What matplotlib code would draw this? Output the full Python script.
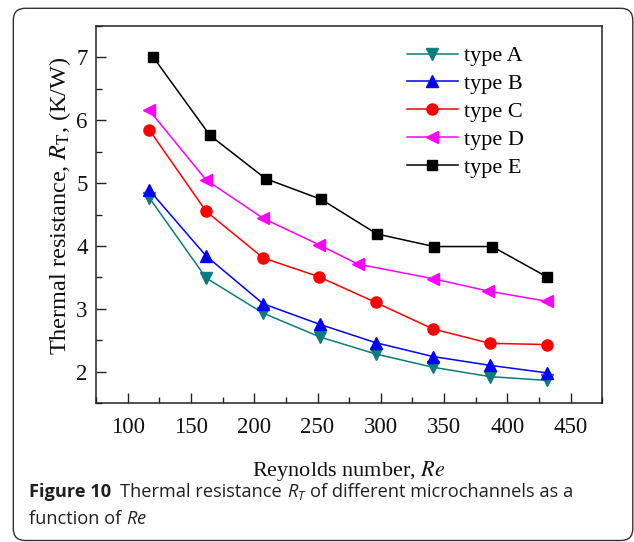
import matplotlib
matplotlib.use("Agg")
import matplotlib.pyplot as plt
from matplotlib.patches import FancyBboxPatch
from matplotlib.transforms import IdentityTransform
from matplotlib.ticker import MultipleLocator

# Reynolds numbers and thermal resistance (K/W) for each microchannel type
re_a = [117, 162, 207, 252, 296, 341, 386, 431]
rt_a = [4.77, 3.49, 2.93, 2.55, 2.28, 2.07, 1.92, 1.86]

re_b = [117, 162, 207, 252, 296, 341, 386, 431]
rt_b = [4.89, 3.84, 3.08, 2.75, 2.46, 2.24, 2.10, 1.98]

re_c = [117, 162, 207, 251, 296, 341, 386, 431]
rt_c = [5.85, 4.55, 3.81, 3.51, 3.10, 2.68, 2.45, 2.43]

re_d = [117, 162, 207, 251, 282, 341, 385, 431]
rt_d = [6.16, 5.05, 4.44, 4.02, 3.71, 3.48, 3.28, 3.12]

re_e = [120, 165, 209, 253, 297, 342, 388, 431]
rt_e = [7.01, 5.76, 5.07, 4.74, 4.19, 3.99, 3.99, 3.51]

labels = ["type A", "type B", "type C", "type D", "type E"]
x_ticks = [100, 150, 200, 250, 300, 350, 400, 450]
y_ticks = [2, 3, 4, 5, 6, 7]

series = [
    (re_a, rt_a, "#0b7d7d", "v", 8.5),
    (re_b, rt_b, "#0000ff", "^", 8.5),
    (re_c, rt_c, "#ff0000", "o", 8),
    (re_d, rt_d, "#ff00ff", "<", 8.5),
    (re_e, rt_e, "#000000", "s", 7),
]

# caption math uses Open Sans; axis labels use STIX (Times-like)
plt.rcParams["mathtext.fontset"] = "stix"
plt.rcParams["mathtext.it"] = "Open Sans:italic"
plt.rcParams["mathtext.rm"] = "Open Sans"
plt.rcParams["mathtext.bf"] = "Open Sans:bold"

serif = "Liberation Serif"
fs = 16.5

fig = plt.figure(figsize=(6.34, 5.42), dpi=100)
W, H = 634, 542
ax = fig.add_axes([96 / W, 1 - 403 / H, (602.3 - 96) / W, (403 - 26) / H])

for (x, y, c, m, ms), lab in zip(series, labels):
    ax.plot(x, y, color=c, marker=m, markersize=ms, lw=1.1, label=lab)

ax.set_xlim(75, 475)
ax.set_ylim(1.5, 7.5)
ax.set_xticks(x_ticks)
ax.set_yticks(y_ticks)
ax.xaxis.set_minor_locator(MultipleLocator(25))
ax.yaxis.set_minor_locator(MultipleLocator(0.5))
ax.tick_params(which="both", direction="in", top=False, right=False,
               width=1.0, color="#222222")
ax.tick_params(which="major", length=7)
ax.tick_params(which="minor", length=4)
ax.tick_params(axis="x", pad=10)
ax.tick_params(axis="y", pad=6)
for lab in ax.get_xticklabels() + ax.get_yticklabels():
    lab.set_fontfamily(serif)
    lab.set_fontsize(fs)
    lab.set_color("#111111")
for sp in ax.spines.values():
    sp.set_linewidth(1.1)
    sp.set_color("#222222")

ax.set_xlabel("Reynolds number, $Re$", fontfamily=serif, fontsize=16,
              math_fontfamily="stix", labelpad=15, color="#111111")
ax.set_ylabel(r"Thermal resistance, $R_{\mathrm{T}}$, (K/W)", fontfamily=serif,
              fontsize=17.5, math_fontfamily="stix", color="#111111")
ax.yaxis.set_label_coords(-0.0454, 0.5225)

leg = ax.legend(loc="upper left", bbox_to_anchor=(0.596, 0.971), frameon=False,
                prop={"family": serif, "size": 16}, handlelength=2.3,
                handletextpad=0.3, labelspacing=0.33, borderaxespad=0)

# caption below the plot, built from consecutive text pieces
sans = "Open Sans"
cap_fs = 13.15
fig.canvas.draw()
renderer = fig.canvas.get_renderer()


def put(x_px, y_px, s, **kw):
    t = fig.text(x_px / W, 1 - y_px / H, s, va="baseline", ha="left",
                 fontfamily=sans, fontsize=cap_fs, color="#231f20", **kw)
    bb = t.get_window_extent(renderer)
    return bb.x1


x = put(29, 497, "Figure 10", fontweight="bold")
x = put(x + 9, 497, "Thermal resistance ")
x = put(x, 497, "$R_T$", math_fontfamily="custom")
put(x + 3, 497, "of different microchannels as a")
x = put(29, 524, "function of ")
put(x, 524, "$Re$", math_fontfamily="custom")

# rounded outer frame
frame = FancyBboxPatch((13.3, H - 540.5), 632.8 - 13.3, 540.5 - 8.3,
                       boxstyle="round,pad=0,rounding_size=12",
                       transform=IdentityTransform(), fill=False,
                       lw=1.0, ec="#333333")
fig.patches.append(frame)

fig.savefig("out.png", dpi=100)
